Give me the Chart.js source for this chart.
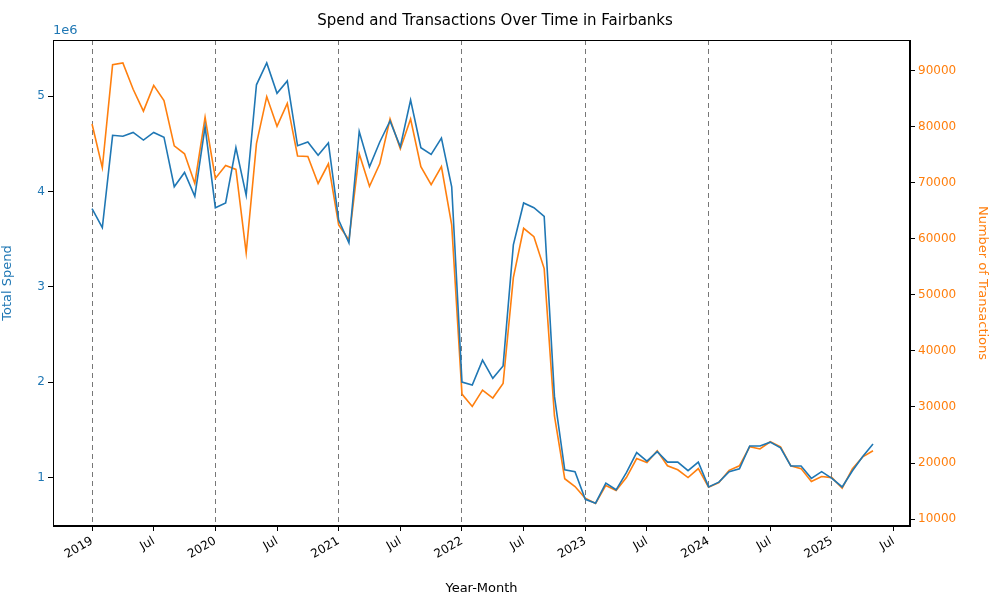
<!DOCTYPE html>
<html>
<head>
<meta charset="utf-8">
<script src="https://cdn.jsdelivr.net/npm/chart.js@4"></script>
<style>
  body { margin: 0; background: #fff; }
</style>
</head>
<body>
<canvas id="c" width="1000" height="600"></canvas>
<script>
// monthly data, Jan 2019 .. May 2025
const startYear = 2019;
const spend = [
  3.82, 3.62, 4.59, 4.58, 4.62, 4.54, 4.62, 4.57, 4.05, 4.20, 3.95, 4.68,
  3.83, 3.88, 4.46, 3.96, 5.12, 5.35, 5.03, 5.16, 4.48, 4.52, 4.38, 4.51,
  3.70, 3.46, 4.63, 4.26, 4.52, 4.74, 4.47, 4.96, 4.46, 4.39, 4.56, 4.05,
  2.00, 1.97, 2.23, 2.04, 2.17, 3.44, 3.88, 3.83, 3.74, 1.85, 1.08, 1.06,
  0.77, 0.73, 0.94, 0.87, 1.05, 1.26, 1.17, 1.27, 1.16, 1.16, 1.07, 1.16,
  0.90, 0.95, 1.06, 1.09, 1.33, 1.33, 1.37, 1.31, 1.12, 1.12, 0.99, 1.06,
  0.99, 0.90, 1.07, 1.22, 1.35
];
const transactions = [
  80500, 72700, 91100, 91400, 86700, 82800, 87400, 84700, 76600, 75200, 69900, 81700,
  70800, 73100, 72400, 57500, 77000, 85400, 80100, 84200, 74800, 74700, 69900, 73400,
  62500, 59800, 75200, 69400, 73400, 81400, 76100, 81400, 72900, 69700, 72900, 62500,
  32300, 30100, 33000, 31600, 34200, 53100, 61900, 60400, 54700, 28400, 17200, 15800,
  13700, 12800, 16000, 15100, 17400, 20800, 20100, 22200, 19500, 18800, 17400, 19000,
  15700, 16500, 18700, 19500, 22900, 22500, 23800, 22900, 19500, 19000, 16700, 17600,
  17400, 15500, 19000, 21100, 22200
];
const leftTicks = [1, 2, 3, 4, 5];
const rightTicks = [10000, 20000, 30000, 40000, 50000, 60000, 70000, 80000, 90000];

const blue = '#1f77b4', orange = '#ff7f0e';
const spendPts = spend.map((v, i) => ({x: i, y: v}));
const transPts = transactions.map((v, i) => ({x: i, y: v}));

const sciLabel = {
  id: 'sciLabel',
  afterDraw(chart) {
    const ctx = chart.ctx, a = chart.chartArea;
    ctx.save();
    ctx.font = '13px "DejaVu Sans"';
    ctx.fillStyle = blue;
    ctx.textAlign = 'left';
    ctx.textBaseline = 'bottom';
    ctx.fillText('1e6', a.left, a.top - 3);
    ctx.restore();
  }
};

new Chart(document.getElementById('c'), {
  type: 'line',
  data: {
    datasets: [
      {label: 'Total Spend', data: spendPts, borderColor: blue, borderWidth: 1.6, pointRadius: 0, yAxisID: 'y'},
      {label: 'Number of Transactions', data: transPts, borderColor: orange, borderWidth: 1.6, pointRadius: 0, yAxisID: 'y1'}
    ]
  },
  options: {
    responsive: false,
    animation: false,
    devicePixelRatio: 1,
    layout: {padding: {top: 0, right: 10, bottom: 0, left: 0}},
    plugins: {
      legend: {display: false},
      tooltip: {enabled: false},
      title: {display: true, text: 'Spend and Transactions Over Time in Fairbanks',
              color: '#000', font: {family: 'DejaVu Sans', size: 15, weight: 'normal'},
              padding: {top: 12, bottom: 10}}
    },
    scales: {
      x: {
        type: 'linear', min: -3.8, max: 79.6,
        afterBuildTicks(s) {
          s.ticks = [];
          for (let m = 0; m <= 78; m += 6) s.ticks.push({value: m});
        },
        afterFit(s) { s.height = 74; },
        ticks: {
          color: '#000', font: {family: 'DejaVu Sans', size: 12}, autoSkip: false,
          minRotation: 30, maxRotation: 30,
          callback: v => (v % 12 === 0 ? String(startYear + v / 12) : 'Jul')
        },
        grid: {
          drawOnChartArea: true, tickLength: 5, tickColor: '#000',
          color: ctx => (ctx.tick && ctx.tick.value % 12 === 0 ? '#777' : 'rgba(0,0,0,0)')
        },
        border: {color: '#000', dash: [5, 4]},
        title: {display: true, text: 'Year-Month', color: '#000', font: {family: 'DejaVu Sans', size: 13}, padding: {top: 0}}
      },
      y: {
        position: 'left', min: 0.49, max: 5.59,
        afterBuildTicks(s) { s.ticks = leftTicks.map(v => ({value: v})); },
        afterFit(s) { s.width = 53; },
        ticks: {color: blue, font: {family: 'DejaVu Sans', size: 12}},
        grid: {drawOnChartArea: false, tickLength: 5, tickColor: '#000'},
        border: {color: '#000'},
        title: {display: true, text: 'Total Spend', color: blue, font: {family: 'DejaVu Sans', size: 13}, padding: 0}
      },
      y1: {
        position: 'right', min: 8760, max: 95500,
        afterBuildTicks(s) { s.ticks = rightTicks.map(v => ({value: v})); },
        afterFit(s) { s.width = 80; },
        ticks: {color: orange, font: {family: 'DejaVu Sans', size: 12}, callback: v => String(v)},
        grid: {drawOnChartArea: false, tickLength: 5, tickColor: '#000'},
        border: {color: '#000'},
        title: {display: true, text: 'Number of Transactions', color: orange, font: {family: 'DejaVu Sans', size: 13}, padding: 0}
      }
    }
  },
  plugins: [sciLabel,
    {id: 'frame', afterDraw(chart) {
      const ctx = chart.ctx, a = chart.chartArea;
      ctx.save(); ctx.strokeStyle = '#000'; ctx.lineWidth = 1;
      ctx.strokeRect(a.left + 0.5, a.top + 0.5, a.width - 1, a.height - 1);
      ctx.restore();
    }}]
});
</script>
</body>
</html>
